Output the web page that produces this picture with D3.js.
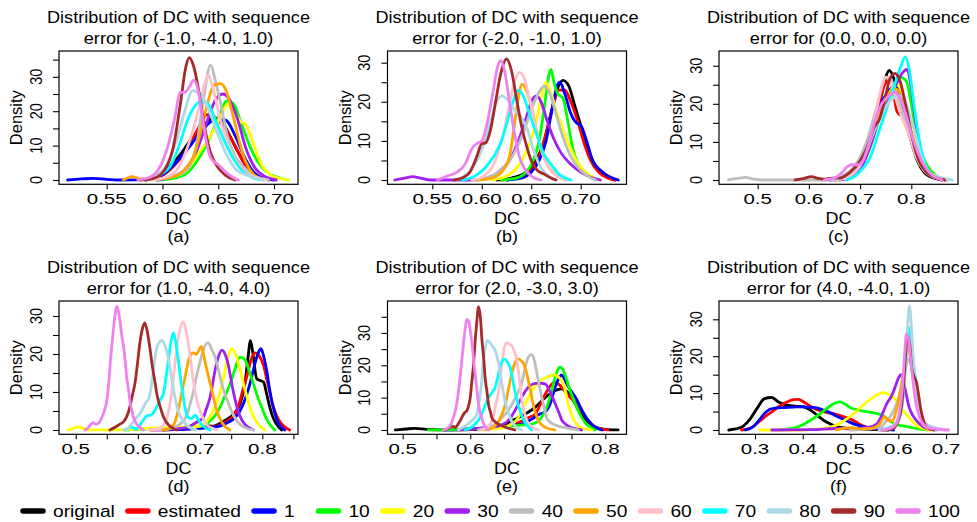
<!DOCTYPE html>
<html>
<head>
<meta charset="utf-8">
<script src="https://cdn.jsdelivr.net/npm/d3@7"></script>
<style>
  body { margin: 0; background: #fff; }
  svg { display: block; }
  text { font-family: "Liberation Sans", Arial, Helvetica, sans-serif; fill: #000; }
</style>
</head>
<body>
<svg id="chart" width="977" height="522"></svg>
<script>
// series (legend order = drawing order)
const seriesNames = ["original", "estimated", "1", "10", "20", "30", "40", "50", "60", "70", "80", "90", "100"];
const seriesColors = ["#000000", "#FF0000", "#0000FF", "#00FF00", "#FFFF00", "#A020F0", "#BEBEBE",
                      "#FFA500", "#FFC0CB", "#00FFFF", "#ADD8E6", "#A52A2A", "#EE82EE"];

const panelErrors = ["(-1.0, -4.0, 1.0)", "(-2.0, -1.0, 1.0)", "(0.0, 0.0, 0.0)",
                     "(1.0, -4.0, 4.0)", "(2.0, -3.0, 3.0)", "(4.0, -4.0, 1.0)"];
const panelLetters = ["(a)", "(b)", "(c)", "(d)", "(e)", "(f)"];

// axis limits (R style, padded) and ticks
const xLimits = [[0.50724, 0.72148], [0.50472, 0.74630], [0.42441, 0.89121],
                 [0.47315, 0.85740], [0.47749, 0.83141], [0.22464, 0.72496]];
const yLimits = [[-1.25, 37.5], [-1.10, 32.99], [-1.13, 33.86],
                 [-1.14, 33.95], [-1.34, 39.88], [-1.17, 34.96]];
const xTicks = [
  [0.55, 0.60, 0.65, 0.70],
  [0.55, 0.60, 0.65, 0.70],
  [0.5, 0.6, 0.7, 0.8],
  [0.5, 0.55, 0.6, 0.65, 0.7, 0.75, 0.8, 0.85],
  [0.5, 0.55, 0.6, 0.65, 0.7, 0.75, 0.8],
  [0.3, 0.4, 0.5, 0.6, 0.7]
];
const xTickLabels = [
  ["0.55", "0.60", "0.65", "0.70"],
  ["0.55", "0.60", "0.65", "0.70"],
  ["0.5", "0.6", "0.7", "0.8"],
  ["0.5", "", "0.6", "", "0.7", "", "0.8", ""],
  ["0.5", "", "0.6", "", "0.7", "", "0.8"],
  ["0.3", "0.4", "0.5", "0.6", "0.7"]
];
const yTicks = [
  [0, 5, 10, 15, 20, 25, 30, 35],
  [0, 5, 10, 15, 20, 25, 30],
  [0, 5, 10, 15, 20, 25, 30],
  [0, 5, 10, 15, 20, 25, 30],
  [0, 5, 10, 15, 20, 25, 30, 35],
  [0, 5, 10, 15, 20, 25, 30]
];

// density curves, [DC, density], one list per series in seriesNames order
const densA = [
  [[0.585,0],[0.595,1],[0.605,3.5],[0.615,7],[0.625,11.5],[0.635,15],[0.645,18],[0.652,17.5],[0.66,13],[0.668,8],[0.675,4],[0.683,1.5],[0.695,0]],
  [[0.585,0],[0.598,1],[0.61,4],[0.622,9],[0.632,15],[0.64,19],[0.648,18],[0.656,15],[0.665,10],[0.673,5],[0.682,2],[0.695,0]],
  [[0.515,0],[0.527,0.3],[0.538,0.5],[0.55,0.2],[0.56,0],[0.59,0.2],[0.60,1.5],[0.612,5],[0.625,10],[0.637,15],[0.647,17.5],[0.656,17.5],[0.665,13],[0.673,7],[0.68,3],[0.69,0.5],[0.70,0]],
  [[0.595,0],[0.61,0.5],[0.622,2],[0.632,6],[0.642,12],[0.65,18],[0.658,23],[0.664,22],[0.67,17],[0.678,10],[0.686,5],[0.695,2],[0.703,0.8],[0.712,0]],
  [[0.595,0],[0.61,1],[0.622,3],[0.633,8],[0.645,14],[0.653,19],[0.658,22],[0.664,20],[0.67,17],[0.675,16],[0.68,12],[0.688,5],[0.697,1.5],[0.705,0.5],[0.713,0]],
  [[0.595,0],[0.61,1],[0.62,3],[0.63,8],[0.64,17],[0.647,23],[0.654,25],[0.66,23.5],[0.667,18],[0.675,9],[0.683,3.5],[0.692,1],[0.702,0]],
  [[0.59,0],[0.61,1],[0.622,3],[0.631,11],[0.637,24],[0.643,33.4],[0.648,28],[0.653,21],[0.658,13],[0.665,7],[0.672,4],[0.684,1],[0.695,0]],
  [[0.565,0],[0.573,1],[0.58,0.3],[0.595,0.3],[0.61,1],[0.62,3],[0.628,7],[0.635,15],[0.641,23],[0.646,27.5],[0.652,28],[0.657,26],[0.663,19],[0.669,11],[0.675,5],[0.682,1.5],[0.69,0]],
  [[0.59,0],[0.605,1],[0.615,4],[0.624,11],[0.632,20],[0.638,28],[0.641,30.5],[0.645,27],[0.65,20],[0.656,13],[0.663,7],[0.672,3],[0.682,1],[0.692,0]],
  [[0.585,0],[0.598,1.5],[0.607,4],[0.615,10],[0.622,17],[0.628,21],[0.635,23],[0.641,22],[0.648,17],[0.656,11],[0.664,6],[0.672,2.5],[0.68,0.8],[0.688,0]],
  [[0.58,0],[0.595,1.5],[0.605,5],[0.613,12],[0.62,20],[0.627,26],[0.634,25],[0.642,20],[0.65,13],[0.658,7],[0.666,3],[0.675,1.5],[0.69,0]],
  [[0.58,0],[0.592,0.5],[0.602,3],[0.61,10],[0.616,22],[0.621,33],[0.624,35.6],[0.628,33],[0.633,25],[0.638,15],[0.643,8],[0.649,4],[0.656,1.5],[0.665,0]],
  [[0.578,0],[0.59,1],[0.598,4],[0.605,10],[0.611,18],[0.616,25.5],[0.62,25.5],[0.624,27],[0.628,29],[0.632,26],[0.636,18],[0.64,10],[0.644,6],[0.65,4.5],[0.656,2.5],[0.662,1],[0.668,0]]
];

const densB = [
  [[0.615,0],[0.63,0.5],[0.645,2],[0.655,5],[0.663,10],[0.67,17],[0.676,23],[0.682,25.5],[0.688,24],[0.694,19],[0.70,14],[0.706,9],[0.712,5],[0.72,2],[0.728,0.8],[0.735,0]],
  [[0.62,0],[0.635,0.5],[0.648,2],[0.658,6],[0.665,12],[0.672,19],[0.678,23],[0.684,23],[0.69,20],[0.697,15],[0.704,9],[0.71,5],[0.718,2],[0.727,0.5],[0.735,0]],
  [[0.625,0],[0.64,0.5],[0.65,2],[0.658,5],[0.665,10],[0.671,18],[0.676,24],[0.679,25],[0.684,22],[0.69,17],[0.696,14.5],[0.70,14],[0.706,10],[0.712,5],[0.72,2.5],[0.728,1],[0.738,0]],
  [[0.62,0],[0.635,0.5],[0.645,2],[0.652,5],[0.658,10],[0.663,18],[0.668,27],[0.67,28.3],[0.673,25],[0.677,22],[0.682,21],[0.687,15],[0.692,8],[0.698,4],[0.705,2],[0.715,0]],
  [[0.61,0],[0.625,1],[0.638,4],[0.648,9],[0.655,15],[0.661,22],[0.665,25],[0.669,23],[0.675,18],[0.682,13],[0.69,8],[0.698,4],[0.707,1.5],[0.72,0]],
  [[0.512,0],[0.522,0.5],[0.53,0.85],[0.538,0.5],[0.548,0],[0.59,0],[0.605,0.5],[0.617,2],[0.628,5],[0.637,10],[0.645,16],[0.65,20],[0.655,21.5],[0.66,20],[0.665,16],[0.672,11],[0.68,7],[0.69,4],[0.70,2],[0.71,0.7],[0.72,0]],
  [[0.595,0],[0.61,1],[0.622,3],[0.633,7],[0.642,12],[0.65,18],[0.657,22],[0.663,24],[0.669,22],[0.675,17],[0.682,11],[0.69,6],[0.698,3],[0.707,1],[0.715,0]],
  [[0.595,0],[0.61,0.5],[0.62,2],[0.628,6],[0.633,14],[0.637,21],[0.641,24.5],[0.645,23],[0.65,19],[0.655,13],[0.66,8],[0.666,4],[0.674,1.5],[0.685,0]],
  [[0.59,0],[0.602,1],[0.612,4],[0.62,10],[0.627,18],[0.633,25],[0.638,27.5],[0.643,26],[0.649,20],[0.655,13],[0.661,7],[0.668,3],[0.676,1],[0.685,0]],
  [[0.58,0],[0.593,1],[0.603,3],[0.612,6],[0.62,10],[0.627,16],[0.633,21],[0.637,23],[0.642,21.5],[0.648,17],[0.655,12],[0.662,7],[0.67,4],[0.678,1.5],[0.69,0]],
  [[0.575,0],[0.585,1.5],[0.593,4],[0.602,9],[0.61,16],[0.615,20],[0.62,21.5],[0.626,20.5],[0.633,18],[0.64,16],[0.646,13],[0.652,8],[0.658,4],[0.665,1.5],[0.675,0]],
  [[0.572,0],[0.58,0.5],[0.588,2],[0.595,6],[0.60,9.3],[0.604,9.5],[0.609,13],[0.614,20],[0.619,27],[0.625,31],[0.63,28],[0.635,21],[0.64,14],[0.645,9],[0.65,5],[0.656,2.5],[0.663,1.5],[0.67,0.5],[0.675,0]],
  [[0.555,0],[0.565,1],[0.575,2],[0.583,4],[0.59,8],[0.596,9.5],[0.60,10],[0.605,14],[0.611,22],[0.616,29],[0.619,30.5],[0.623,28],[0.628,20],[0.633,12],[0.638,6],[0.643,3],[0.65,1],[0.66,0]]
];

const densC = [
  [[0.64,0],[0.665,0.5],[0.685,2],[0.70,4],[0.715,8],[0.728,14],[0.74,21],[0.75,27],[0.757,28.8],[0.765,27],[0.775,22],[0.787,16],[0.80,10],[0.812,5],[0.825,2],[0.84,0.7],[0.86,0]],
  [[0.65,0],[0.675,0.5],[0.69,2],[0.705,5],[0.72,11],[0.735,19],[0.748,25],[0.757,26.5],[0.765,23],[0.772,18],[0.78,17],[0.788,17],[0.797,14],[0.808,9],[0.82,4],[0.835,1.5],[0.86,0]],
  [[0.65,0],[0.675,1],[0.695,3],[0.712,8],[0.728,15],[0.745,21],[0.76,24],[0.772,24.5],[0.783,22],[0.795,16],[0.808,9],[0.82,4],[0.835,1.5],[0.865,0]],
  [[0.66,0],[0.68,1],[0.70,3],[0.718,8],[0.735,15],[0.75,20],[0.765,24],[0.778,27],[0.79,26],[0.80,20],[0.81,12],[0.82,7],[0.83,4],[0.845,1.5],[0.87,0]],
  [[0.655,0],[0.68,1],[0.70,3.5],[0.718,9],[0.735,16],[0.75,21],[0.762,24],[0.772,25],[0.782,23],[0.795,17],[0.807,10],[0.82,5],[0.835,2],[0.87,0]],
  [[0.66,0],[0.685,1],[0.705,4],[0.72,9],[0.737,16],[0.755,21],[0.77,25],[0.782,28],[0.792,29],[0.80,24],[0.808,16],[0.818,8],[0.83,3],[0.845,1],[0.87,0]],
  [[0.443,0],[0.46,0.4],[0.475,0.7],[0.49,0.3],[0.505,0],[0.64,0],[0.665,1],[0.685,3],[0.70,6],[0.715,11],[0.73,18],[0.742,24],[0.75,27],[0.758,26.5],[0.768,24],[0.78,19],[0.795,13],[0.81,6],[0.825,2.5],[0.845,0.8],[0.865,0]],
  [[0.655,0],[0.68,1.5],[0.70,4],[0.717,9],[0.733,16],[0.75,21],[0.765,24],[0.775,23.5],[0.785,20],[0.797,14],[0.81,8],[0.825,3.5],[0.84,1.2],[0.865,0]],
  [[0.65,0],[0.672,0.5],[0.69,2],[0.705,5],[0.72,11],[0.733,19],[0.743,25],[0.75,27],[0.758,26],[0.768,22],[0.78,17],[0.795,12],[0.81,6],[0.825,2.5],[0.845,0.7],[0.87,0]],
  [[0.674,0],[0.69,1],[0.705,3],[0.72,6],[0.735,12],[0.75,18],[0.765,24],[0.78,30],[0.788,32.3],[0.796,29],[0.805,20],[0.815,11],[0.825,5],[0.84,1.5],[0.865,0]],
  [[0.645,0],[0.67,1],[0.69,3],[0.71,7],[0.728,13],[0.745,18],[0.76,21],[0.772,22],[0.782,22],[0.795,18],[0.808,12],[0.82,6],[0.835,2],[0.86,0.5],[0.88,0]],
  [[0.573,0],[0.59,0.4],[0.605,0.9],[0.618,0.4],[0.63,0.2],[0.645,0.5],[0.66,0.5],[0.68,2],[0.70,5],[0.715,9],[0.728,14],[0.738,16],[0.748,21],[0.758,26.5],[0.768,28],[0.778,26],[0.79,19],[0.802,11],[0.815,5],[0.83,2],[0.85,0.5],[0.865,0]],
  [[0.63,0],[0.65,0.5],[0.665,2],[0.675,3.5],[0.685,4],[0.695,4],[0.705,5],[0.718,10],[0.73,16],[0.742,20],[0.755,22],[0.768,23],[0.78,21],[0.792,16],[0.805,10],[0.82,5],[0.835,2],[0.86,0]]
];

const densD = [
  [[0.64,0],[0.67,0.2],[0.69,0.6],[0.70,1],[0.71,1.2],[0.72,1],[0.727,1.3],[0.74,2.5],[0.753,4],[0.764,6.8],[0.772,12],[0.777,19],[0.781,23.5],[0.785,20],[0.791,13.5],[0.797,13],[0.802,12.6],[0.807,9.5],[0.812,6],[0.818,3],[0.823,1.5],[0.831,0]],
  [[0.62,0],[0.68,0.3],[0.71,0.7],[0.727,1],[0.74,2],[0.748,2.8],[0.755,4],[0.761,6],[0.768,10],[0.775,14],[0.782,18.5],[0.788,20.3],[0.795,19.5],[0.802,17],[0.807,13.5],[0.812,10],[0.818,6],[0.826,2.8],[0.835,1],[0.844,0]],
  [[0.64,0],[0.70,0.4],[0.732,1],[0.745,2],[0.753,2.8],[0.764,5],[0.771,7.5],[0.777,10.4],[0.783,14],[0.788,17.4],[0.794,20.5],[0.798,21.4],[0.802,19.5],[0.807,15.7],[0.811,11.5],[0.815,7.7],[0.82,4.5],[0.826,1.8],[0.836,0]],
  [[0.58,0],[0.62,0.3],[0.66,0.6],[0.70,1],[0.716,2.4],[0.725,4],[0.732,6],[0.74,9],[0.748,12],[0.756,16],[0.764,19.2],[0.772,18.5],[0.779,15.5],[0.786,12],[0.793,8.5],[0.799,6],[0.805,3.5],[0.81,2],[0.82,0]],
  [[0.488,0],[0.497,0.5],[0.504,0.8],[0.512,0.4],[0.52,0],[0.56,0],[0.60,0.3],[0.65,0.7],[0.68,0.8],[0.70,1],[0.712,2.5],[0.721,5],[0.727,7.5],[0.732,10],[0.738,14],[0.743,18],[0.751,21.4],[0.759,19],[0.765,15.5],[0.77,12],[0.775,9],[0.78,6],[0.786,3.5],[0.791,2],[0.804,0]],
  [[0.62,0],[0.66,0.3],[0.678,0.6],[0.689,1.5],[0.697,2.3],[0.705,3.3],[0.71,5.5],[0.716,8.6],[0.72,12],[0.724,15.7],[0.729,19],[0.735,21],[0.74,20],[0.745,17.4],[0.749,14],[0.753,10.4],[0.757,7.5],[0.761,5],[0.766,3],[0.772,1.5],[0.786,0]],
  [[0.63,0],[0.655,0.5],[0.665,1.2],[0.673,2.4],[0.679,4],[0.684,6.8],[0.689,10],[0.694,14],[0.70,18],[0.705,21],[0.709,22.5],[0.713,23],[0.718,21.5],[0.724,19.2],[0.73,15.5],[0.735,12],[0.741,9],[0.748,6],[0.754,3.8],[0.761,2],[0.77,0.8],[0.786,0]],
  [[0.64,0],[0.65,0.3],[0.658,1.5],[0.663,4],[0.668,7.7],[0.672,11],[0.676,14],[0.683,19.2],[0.689,20.3],[0.694,19.9],[0.698,21],[0.702,22],[0.706,19.5],[0.71,16.5],[0.715,13],[0.719,10.4],[0.723,7.5],[0.727,5],[0.735,2],[0.748,0]],
  [[0.62,0],[0.636,0.5],[0.642,1.5],[0.646,2.8],[0.65,5.5],[0.654,9.5],[0.658,15],[0.662,21],[0.667,26],[0.673,28.5],[0.677,26.5],[0.681,22.7],[0.685,18],[0.689,13],[0.694,8.5],[0.70,5],[0.705,3],[0.71,1.5],[0.727,0]],
  [[0.579,0],[0.59,0.7],[0.598,0.3],[0.606,2],[0.614,3.7],[0.622,4],[0.63,6],[0.636,8],[0.641,9.5],[0.645,13.5],[0.649,18.3],[0.653,23],[0.657,25.6],[0.661,23],[0.665,18.3],[0.669,13],[0.673,8.6],[0.677,5],[0.681,3.3],[0.686,3],[0.692,3.9],[0.697,2.8],[0.702,1.5],[0.716,0]],
  [[0.577,0],[0.585,0.6],[0.592,2],[0.598,3.3],[0.604,4.5],[0.609,6],[0.613,7.3],[0.617,8.1],[0.621,11],[0.625,15.7],[0.63,21.4],[0.634,23],[0.638,23.6],[0.642,22.8],[0.646,21],[0.65,18],[0.654,14],[0.658,10],[0.662,6.8],[0.667,4],[0.673,2.4],[0.68,1],[0.694,0]],
  [[0.555,0],[0.566,1],[0.572,1.6],[0.577,2.2],[0.582,3.5],[0.587,6],[0.591,9],[0.595,12],[0.599,17],[0.603,22.7],[0.607,26.5],[0.611,28.2],[0.615,26],[0.619,21.9],[0.623,17],[0.627,13],[0.631,9],[0.636,6],[0.641,3.5],[0.646,2],[0.653,0.8],[0.662,0]],
  [[0.515,0],[0.52,0.6],[0.524,1.4],[0.528,1.9],[0.533,1.5],[0.538,2],[0.542,3.3],[0.546,5],[0.55,7.7],[0.553,12],[0.555,16.5],[0.558,22],[0.561,27],[0.564,31],[0.566,32.5],[0.569,31],[0.571,29],[0.574,25],[0.577,21.9],[0.58,17.5],[0.582,13.9],[0.585,10.5],[0.587,7.7],[0.59,5.3],[0.593,3.3],[0.597,1.8],[0.601,1],[0.609,0]]
];

const densE = [
  [[0.489,0],[0.505,0.3],[0.518,0.5],[0.535,0.2],[0.553,0],[0.60,0.1],[0.632,0.7],[0.648,1.6],[0.661,2.8],[0.681,4.9],[0.696,7],[0.711,10],[0.725,12.1],[0.735,12.7],[0.745,11.5],[0.755,8.3],[0.765,4.9],[0.775,2.3],[0.785,0.8],[0.80,0.2],[0.819,0]],
  [[0.58,0],[0.62,0.3],[0.645,0.8],[0.661,1.5],[0.675,2.6],[0.686,3.8],[0.696,4.9],[0.703,7.5],[0.711,11],[0.718,13.5],[0.725,14.7],[0.733,13.8],[0.74,12],[0.748,10],[0.755,8.8],[0.765,5.9],[0.775,2.8],[0.783,1.2],[0.79,0.5],[0.804,0]],
  [[0.56,0],[0.60,0.3],[0.64,0.8],[0.66,1.3],[0.676,1.8],[0.691,3.3],[0.703,4.9],[0.711,5.6],[0.716,7],[0.72,9],[0.724,12],[0.728,14.5],[0.733,16.5],[0.735,17],[0.739,16],[0.743,14.2],[0.748,12.5],[0.753,11],[0.758,9.3],[0.762,7.5],[0.767,5.5],[0.772,3.8],[0.78,1.8],[0.787,0.7],[0.795,0]],
  [[0.538,0],[0.58,0.2],[0.62,0.6],[0.65,1],[0.67,1.4],[0.681,1.6],[0.691,1.8],[0.701,2.8],[0.706,4],[0.711,6],[0.715,8],[0.718,10],[0.722,13],[0.725,15.8],[0.729,18.3],[0.733,19.4],[0.737,18.8],[0.74,17.3],[0.745,14],[0.75,11],[0.755,8.3],[0.76,5.9],[0.765,3.9],[0.77,2.3],[0.777,1],[0.785,0]],
  [[0.62,0],[0.64,0.4],[0.651,0.7],[0.661,1.8],[0.671,3.8],[0.676,5.8],[0.681,8],[0.686,10],[0.691,12],[0.698,14],[0.706,15.5],[0.716,16.5],[0.725,17],[0.731,16.3],[0.738,14.2],[0.742,11],[0.745,8],[0.749,5.5],[0.753,3.3],[0.76,1.2],[0.768,0.4],[0.78,0]],
  [[0.582,0],[0.60,0.3],[0.622,0.7],[0.642,1.2],[0.649,1.8],[0.656,2.8],[0.661,4.2],[0.666,5.9],[0.671,8],[0.676,10],[0.681,11.8],[0.686,13.2],[0.693,14.2],[0.701,14.5],[0.706,14.4],[0.711,14.2],[0.716,12.8],[0.72,11],[0.724,9],[0.728,7],[0.732,5],[0.735,3.3],[0.74,2],[0.745,1.2],[0.765,0]],
  [[0.612,0],[0.62,0.4],[0.632,1.2],[0.64,2.3],[0.647,3.8],[0.656,5.9],[0.666,9.6],[0.671,11.8],[0.676,14.2],[0.68,18],[0.684,21.5],[0.688,23],[0.691,23.3],[0.695,21.5],[0.698,18.4],[0.702,14],[0.706,10],[0.71,6.5],[0.713,3.8],[0.718,2.5],[0.723,1.8],[0.74,0.7],[0.76,0]],
  [[0.622,0],[0.632,0.5],[0.639,1.8],[0.644,3.5],[0.649,5.9],[0.653,9],[0.656,12.1],[0.66,16],[0.664,19.4],[0.668,21.5],[0.671,22],[0.675,21.5],[0.679,20.5],[0.683,18],[0.686,15.3],[0.69,11.5],[0.693,8],[0.697,5],[0.701,2.8],[0.711,0.8],[0.725,0]],
  [[0.617,0],[0.627,1.2],[0.634,3.8],[0.638,8],[0.642,12.1],[0.645,17],[0.647,20.5],[0.65,25],[0.654,27],[0.658,26.5],[0.661,26.2],[0.665,24.5],[0.669,21.5],[0.673,15.5],[0.676,10],[0.68,5.5],[0.684,2.8],[0.691,0.9],[0.701,0]],
  [[0.592,0],[0.60,0.6],[0.607,1.8],[0.612,3],[0.617,4.9],[0.622,7.5],[0.627,10],[0.632,11.5],[0.637,13.2],[0.641,16.5],[0.644,19.4],[0.648,21.5],[0.651,22],[0.655,21],[0.659,19.4],[0.663,15.5],[0.666,12.1],[0.67,8.5],[0.674,5.9],[0.677,4],[0.681,2.3],[0.686,1],[0.691,0]],
  [[0.582,0],[0.592,1.2],[0.602,2.8],[0.607,3.8],[0.61,4.9],[0.614,10],[0.617,15],[0.619,20.5],[0.622,25],[0.625,27.7],[0.628,27.3],[0.632,26.2],[0.637,24.6],[0.642,20.5],[0.647,14.2],[0.65,10.5],[0.654,7],[0.658,4.5],[0.661,2.8],[0.669,0.8],[0.676,0]],
  [[0.563,0],[0.568,0.5],[0.573,1.2],[0.578,0.8],[0.582,1.8],[0.585,2.8],[0.589,4.5],[0.592,5.4],[0.595,6],[0.597,7],[0.60,10],[0.602,14.2],[0.605,20.5],[0.607,26.7],[0.61,34],[0.612,38.1],[0.615,35],[0.617,28.8],[0.62,22],[0.622,16.3],[0.625,11.5],[0.627,8],[0.63,5.5],[0.632,3.8],[0.637,2.5],[0.642,1.8],[0.654,0.7],[0.666,0]],
  [[0.56,0],[0.565,0.4],[0.57,1.2],[0.575,3.8],[0.58,8],[0.585,16.3],[0.59,26.7],[0.593,32],[0.595,34.2],[0.598,33.5],[0.60,30.8],[0.603,26],[0.605,21.5],[0.608,16],[0.61,12.1],[0.612,8.5],[0.614,5.9],[0.617,3.8],[0.619,2.3],[0.623,1],[0.627,0]]
];

const densF = [
  [[0.245,0],[0.26,0.3],[0.275,1],[0.29,3],[0.305,6],[0.32,8.5],[0.335,8.8],[0.35,7.5],[0.365,6.8],[0.38,6.5],[0.40,6.3],[0.415,5.5],[0.43,4],[0.445,2.5],[0.46,1.5],[0.475,0.8],[0.49,0.5],[0.51,0.3],[0.53,0.2],[0.55,0.1],[0.58,0]],
  [[0.272,0],[0.29,0.5],[0.31,2.4],[0.325,4],[0.338,5.2],[0.352,6.5],[0.366,7.5],[0.38,8.2],[0.391,8.3],[0.403,7.5],[0.415,6.5],[0.43,5.5],[0.443,5],[0.457,4.6],[0.471,4.2],[0.485,3.6],[0.499,3],[0.51,2.3],[0.52,1.5],[0.535,0.7],[0.55,0.3],[0.57,0]],
  [[0.28,0],[0.295,0.8],[0.31,2.9],[0.32,4.5],[0.331,5.6],[0.345,6],[0.36,6.1],[0.38,6.2],[0.394,6.3],[0.41,6.2],[0.429,6],[0.443,5.4],[0.457,4.7],[0.47,3.8],[0.485,2.9],[0.50,2],[0.513,1.4],[0.527,0.9],[0.541,0.6],[0.56,0.3],[0.59,0]],
  [[0.352,0],[0.37,0.3],[0.387,0.7],[0.40,1.4],[0.415,2.5],[0.43,3.8],[0.443,5.1],[0.455,6.3],[0.466,7.2],[0.478,7.6],[0.489,7],[0.499,6.1],[0.512,5.5],[0.527,5.1],[0.548,4.7],[0.56,4.3],[0.569,3.8],[0.583,2.4],[0.597,1.5],[0.618,0.9],[0.639,0.4],[0.66,0]],
  [[0.31,0],[0.40,0],[0.44,0.3],[0.457,0.7],[0.475,1.6],[0.492,3],[0.506,4.4],[0.52,6],[0.531,7.3],[0.541,8.3],[0.555,9.5],[0.569,10.1],[0.58,9.7],[0.59,8.8],[0.60,7.2],[0.611,5.1],[0.622,3.4],[0.632,2],[0.646,0.7],[0.667,0]],
  [[0.335,0],[0.42,0.1],[0.47,0.4],[0.50,0.3],[0.527,0.6],[0.545,1],[0.555,1.6],[0.562,3],[0.569,5.1],[0.577,7.4],[0.585,9],[0.593,11.5],[0.60,14],[0.605,15],[0.61,13.5],[0.616,10],[0.622,6.5],[0.63,4],[0.639,2.4],[0.653,0.8],[0.673,0]],
  [[0.50,0],[0.54,0.3],[0.565,1],[0.575,2.5],[0.585,4],[0.593,6],[0.60,8.5],[0.607,12],[0.614,16],[0.621,19.2],[0.627,17.5],[0.632,14],[0.637,10],[0.642,7],[0.648,4.5],[0.653,2.4],[0.665,0.7],[0.68,0]],
  [[0.47,0],[0.49,0.5],[0.505,0.6],[0.52,0.3],[0.545,0.5],[0.56,1.5],[0.572,3.6],[0.58,2.5],[0.588,2.5],[0.595,5],[0.602,9],[0.61,15],[0.617,20.5],[0.621,22],[0.626,19],[0.631,14],[0.636,9],[0.641,5.5],[0.646,3.3],[0.655,1.2],[0.667,0]],
  [[0.56,0],[0.58,0.5],[0.595,2],[0.603,5],[0.61,11],[0.615,18],[0.619,23],[0.623,25],[0.628,22],[0.633,15],[0.639,8],[0.645,4],[0.652,1.5],[0.665,0.4],[0.68,0]],
  [[0.56,0],[0.58,0.5],[0.595,1.5],[0.604,4],[0.61,9],[0.615,17],[0.619,25],[0.622,27.8],[0.626,25],[0.631,19],[0.636,14],[0.641,9],[0.646,5],[0.652,2.5],[0.662,0.8],[0.68,0]],
  [[0.56,0],[0.585,0.5],[0.597,2],[0.605,5],[0.611,11],[0.616,20],[0.62,29],[0.623,33.6],[0.627,29],[0.631,20],[0.636,13],[0.641,8],[0.647,4],[0.655,2],[0.668,1],[0.685,0.4],[0.705,0]],
  [[0.575,0],[0.59,0.5],[0.598,2],[0.605,5],[0.611,12],[0.615,20],[0.619,25.5],[0.624,23],[0.628,17],[0.633,14.5],[0.638,13],[0.643,9],[0.648,5],[0.654,2],[0.662,0.6],[0.675,0]],
  [[0.565,0],[0.585,0.5],[0.597,2],[0.604,6],[0.609,12],[0.613,20],[0.617,26],[0.621,25],[0.626,19],[0.631,13],[0.636,8],[0.642,4.5],[0.65,2],[0.662,0.7],[0.68,0.2],[0.705,0]]
];

const panelDensities = [densA, densB, densC, densD, densE, densF];

// ---- layout ----
const colLeft = [59, 387.5, 719];
const rowTop = [51, 301];
const boxW = 239, boxH = 133.3;

const svg = d3.select("#chart");

panelDensities.forEach((dens, i) => {
  const left = colLeft[i % 3], top = rowTop[Math.floor(i / 3)];
  const right = left + boxW, bottom = top + boxH;
  const cx = (left + right) / 2;

  const x = d3.scaleLinear().domain(xLimits[i]).range([left, right]);
  const y = d3.scaleLinear().domain(yLimits[i]).range([bottom, top]);

  const g = svg.append("g");

  // curves
  const line = d3.line()
    .x(d => x(d[0]))
    .y(d => y(d[1]))
    .curve(d3.curveMonotoneX);

  g.selectAll("path.dens")
    .data(dens)
    .join("path")
    .attr("class", "dens")
    .attr("d", line)
    .attr("fill", "none")
    .attr("stroke", (d, j) => seriesColors[j])
    .attr("stroke-width", 2.8)
    .attr("stroke-linejoin", "round")
    .attr("stroke-linecap", "round");

  // box
  g.append("rect")
    .attr("x", left).attr("y", top)
    .attr("width", boxW).attr("height", boxH)
    .attr("fill", "none").attr("stroke", "#000").attr("stroke-width", 1.2);

  // x axis ticks
  const xa = g.append("g")
    .attr("transform", `translate(0,${bottom})`)
    .call(d3.axisBottom(x).tickValues(xTicks[i]).tickSize(5).tickSizeOuter(0).tickFormat(""));
  xa.select(".domain").remove();
  xa.selectAll("line").attr("stroke-width", 1.1);

  g.selectAll("text.xlab")
    .data(xTicks[i])
    .join("text")
    .attr("class", "xlab")
    .attr("text-anchor", "middle")
    .attr("font-size", 15.5)
    .attr("transform", d => `translate(${x(d)},${bottom + 20}) scale(1.32,1)`)
    .text((d, k) => xTickLabels[i][k]);

  // y axis ticks
  const ya = g.append("g")
    .attr("transform", `translate(${left},0)`)
    .call(d3.axisLeft(y).tickValues(yTicks[i]).tickSize(6).tickSizeOuter(0).tickFormat(""));
  ya.select(".domain").remove();
  ya.selectAll("line").attr("stroke-width", 1.1);

  const yfs = 14.5, ysy = 1.15;
  g.selectAll("text.ylab")
    .data(yTicks[i].filter(v => v % 10 === 0))
    .join("text")
    .attr("class", "ylab")
    .attr("text-anchor", "middle")
    .attr("font-size", yfs)
    .attr("transform", d => `translate(${left - 23 + 0.358 * yfs * ysy},${y(d)}) rotate(-90) scale(1,${ysy})`)
    .text(d => d);

  // titles
  const tfs = 16.5;
  g.append("text")
    .attr("text-anchor", "middle").attr("font-size", tfs)
    .attr("transform", `translate(${cx},${top - 28}) scale(1.1,1)`)
    .text("Distribution of DC with sequence");
  g.append("text")
    .attr("text-anchor", "middle").attr("font-size", tfs)
    .attr("transform", `translate(${cx},${top - 7.5}) scale(1.1,1)`)
    .text("error for " + panelErrors[i]);

  // axis titles
  g.append("text")
    .attr("text-anchor", "middle").attr("font-size", 16)
    .attr("transform", `translate(${cx},${bottom + 39.5}) scale(1.12,1)`)
    .text("DC");
  g.append("text")
    .attr("text-anchor", "middle").attr("font-size", 16)
    .attr("transform", `translate(${cx},${bottom + 57.5}) scale(1.12,1)`)
    .text(panelLetters[i]);
  g.append("text")
    .attr("text-anchor", "middle").attr("font-size", 16.5)
    .attr("transform", `translate(${left - 37},${(top + bottom) / 2}) rotate(-90)`)
    .text("Density");
});

// ---- legend ----
const legendY = 511;
const lfs = 16, lsx = 1.2;
const legend = svg.append("g");
let lx = 20;
seriesNames.forEach((name, j) => {
  legend.append("line")
    .attr("x1", lx + 3).attr("x2", lx + 23)
    .attr("y1", legendY).attr("y2", legendY)
    .attr("stroke", seriesColors[j]).attr("stroke-width", 5.5)
    .attr("stroke-linecap", "round");
  const t = legend.append("text")
    .attr("font-size", lfs)
    .attr("transform", `translate(${lx + 33},${legendY + 5.5}) scale(${lsx},1)`)
    .text(name);
  const w = t.node().getComputedTextLength() * lsx;
  lx += 43 + Math.max(w, 21.4);
});
</script>
</body>
</html>
